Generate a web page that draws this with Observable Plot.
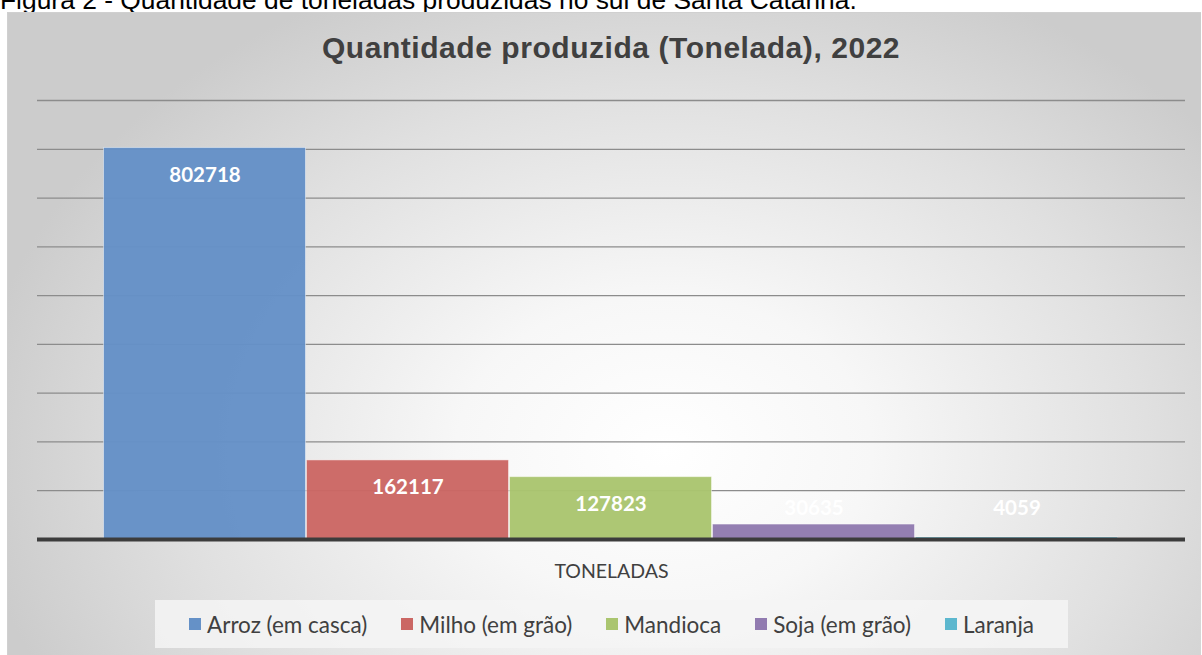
<!DOCTYPE html>
<html>
<head>
<meta charset="utf-8">
<script src="https://cdn.jsdelivr.net/npm/d3@7"></script>
<script src="https://cdn.jsdelivr.net/npm/@observablehq/plot@0.6"></script>
<style>
  html, body { margin: 0; padding: 0; background: #ffffff; }
  body { width: 1202px; height: 655px; position: relative; overflow: hidden; font-family: "Liberation Sans", Arial, sans-serif; }
  #caption { position: absolute; left: 0; top: -13px; font-size: 26.4px; line-height: 26px; color: #000; white-space: nowrap; }
  #frame { position: absolute; left: 7px; top: 12px; width: 1193px; height: 643px;
    background: radial-gradient(ellipse 58% 80% at 55% 68%, #ffffff 0%, #f7f7f7 30%, #e0e0e0 70%, #cccccc 100%);
    border-top: 1px solid #d0d0d0; border-left: 1px solid #d0d0d0; }
  #title { position: absolute; left: 0; top: 31px; width: 1222px; text-align: center; font-weight: bold; font-size: 30px; letter-spacing: 0.55px; color: #404040; }
  #chart { position: absolute; left: 0; top: 90px; }
  #legend { position: absolute; left: 155px; top: 600px; width: 913px; height: 48px; background: rgba(245,245,245,0.85);
    display: flex; align-items: center; justify-content: center; gap: 34px; font-family: Lato, "Open Sans", sans-serif; font-size: 22.5px; color: #404040; }
  .item { display: flex; align-items: center; gap: 6px; }
  .sw { width: 12px; height: 12px; display: inline-block; }
</style>
</head>
<body>
<div id="caption">Figura 2 - Quantidade de toneladas produzidas no sul de Santa Catarina.</div>
<div id="frame"></div>
<div id="title">Quantidade produzida (Tonelada), 2022</div>
<div id="chart"></div>
<div id="legend"></div>
<script>
const series = ["Arroz (em casca)", "Milho (em grão)", "Mandioca", "Soja (em grão)", "Laranja"];
const values = [802718, 162117, 127823, 30635, 4059];
const colors = ["#6591c7", "#cb6764", "#aac56f", "#917bb0", "#5cb7ce"];
const yTicks = [0, 100000, 200000, 300000, 400000, 500000, 600000, 700000, 800000, 900000];
const category = "TONELADAS";

const data = series.map((s, i) => ({serie: s, value: values[i]}));

const chart = Plot.plot({
  width: 1202,
  height: 500,
  marginLeft: 37,
  marginRight: 17,
  marginTop: 10,
  marginBottom: 51,
  style: {background: "transparent", fontFamily: "Lato, 'Open Sans', sans-serif"},
  x: {type: "band", domain: series, padding: 0, insetLeft: 66, insetRight: 67, axis: null},
  y: {domain: [0, 900000], axis: null},
  color: {domain: series, range: colors},
  marks: [
    Plot.ruleY(yTicks.filter(d => d > 0), {stroke: "#8c8c8c", strokeWidth: 1.3}),
    Plot.barY(data, {x: "serie", y: "value", fill: "serie", fillOpacity: 0.97, stroke: "#ffffff", strokeOpacity: 0.45, strokeWidth: 1, insetLeft: 0.5, insetRight: 0.5}),
    Plot.ruleY([0], {stroke: "#3c3c3c", strokeWidth: 4}),
    Plot.text(data.filter(d => d.value > 100000), {x: "serie", y: "value", text: d => String(d.value), dy: 27, fill: "#ffffff", fontWeight: "bold", fontSize: 20.5}),
    Plot.text(data.filter(d => d.value <= 100000), {x: "serie", frameAnchor: "bottom", text: d => String(d.value), dy: -25, fill: "#ffffff", fontWeight: "bold", fontSize: 20.5}),
    Plot.text([category], {frameAnchor: "bottom", text: d => d, dy: 38, fill: "#404040", fontSize: 19.5})
  ]
});
document.getElementById("chart").appendChild(chart);

const legend = document.getElementById("legend");
series.forEach((s, i) => {
  const it = document.createElement("div");
  it.className = "item";
  it.innerHTML = `<span class="sw" style="background:${colors[i]}"></span><span>${s}</span>`;
  legend.appendChild(it);
});
</script>
</body>
</html>
